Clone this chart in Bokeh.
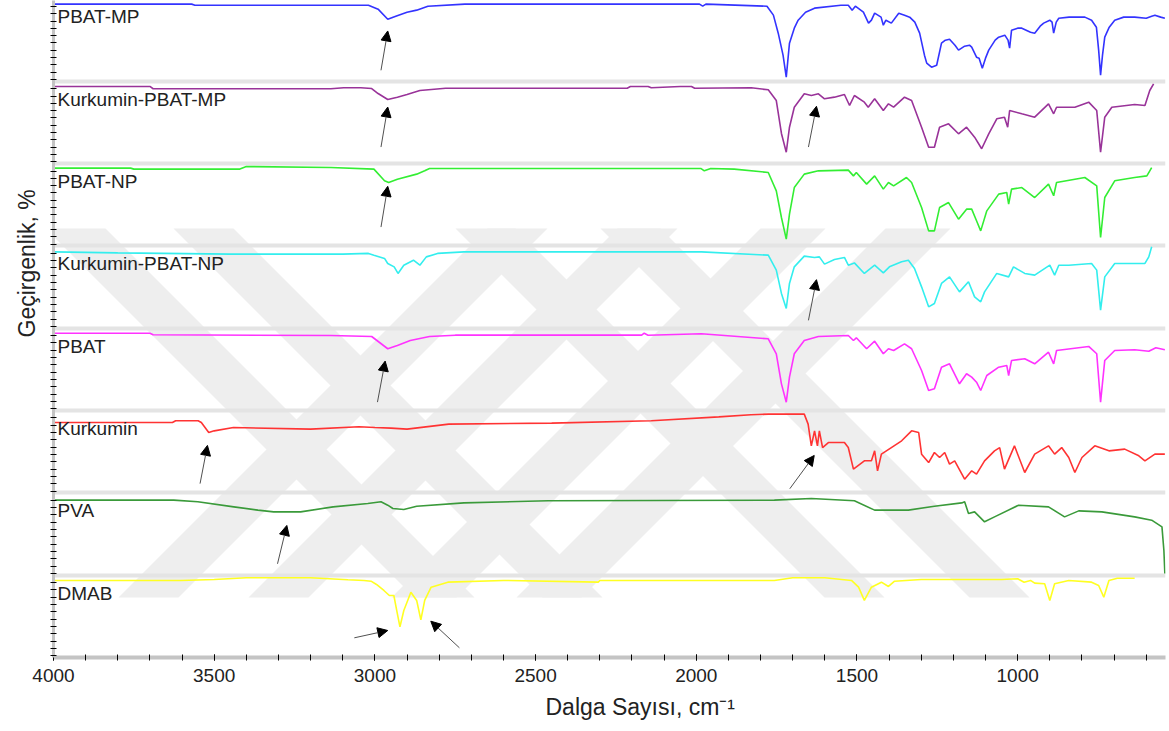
from bokeh.plotting import figure
from bokeh.models import (Range1d, FixedTicker, SingleIntervalTicker, Title,
                          Arrow, NormalHead, ColumnDataSource)
from bokeh.embed import file_html
from bokeh.resources import INLINE
from bokeh.core.properties import value

# ---------------- data: (wavenumber cm-1, transmittance % within its panel) -------------
PBAT_MP = [(4000, 93.6), (3570, 93.6), (3560, 92.3), (3020, 92.3), (2990, 87.5), (2960, 75.3),
           (2935, 79.0), (2900, 83.8), (2870, 86.3), (2835, 91.1), (2720, 93.6), (1990, 93.6),
           (1980, 91.1), (1970, 93.6), (1780, 91.1), (1760, 80.2), (1745, 58.3), (1730, 31.6),
           (1720, 4.9), (1710, 46.2), (1695, 64.4), (1683, 74.1), (1660, 83.8), (1632, 88.7),
           (1550, 92.3), (1527, 92.3), (1515, 86.3), (1505, 91.1), (1480, 83.8), (1464, 70.5),
           (1455, 74.1), (1445, 82.6), (1425, 77.8), (1418, 68.0), (1410, 74.1), (1393, 70.5),
           (1370, 82.6), (1352, 80.2), (1336, 77.8), (1320, 71.7), (1305, 58.3), (1290, 31.6),
           (1283, 21.9), (1268, 17.0), (1252, 19.4), (1237, 46.2), (1225, 49.8), (1212, 51.0),
           (1195, 43.7), (1184, 37.7), (1165, 42.5), (1150, 43.7), (1143, 41.3), (1128, 29.2),
           (1120, 28.0), (1110, 15.8), (1100, 28.0), (1090, 37.7), (1070, 49.8), (1059, 53.5),
           (1040, 55.9), (1030, 49.8), (1025, 40.1), (1019, 62.0), (1000, 64.4), (987, 64.4),
           (960, 59.5), (947, 58.3), (930, 66.8), (919, 70.5), (900, 74.1), (893, 71.7),
           (888, 58.3), (880, 71.7), (872, 76.5), (840, 77.8), (791, 77.8), (770, 74.1),
           (755, 65.6), (748, 37.7), (742, 7.3), (736, 31.6), (729, 53.5), (715, 65.6),
           (698, 74.1), (670, 77.8), (636, 77.8), (600, 76.5), (583, 79.0), (573, 80.2),
           (555, 77.8), (542, 76.5)]

K_PBAT_MP = [(4000, 93.6), (3700, 93.6), (3690, 90.8), (3137, 90.8), (3097, 92.0), (3044, 92.0),
             (3010, 91.1), (2990, 85.0), (2960, 77.8), (2930, 80.6), (2900, 83.8), (2860, 88.7),
             (2780, 91.5), (2215, 91.5), (2205, 93.6), (2150, 93.6), (2140, 92.0), (2050, 93.6),
             (2015, 93.6), (2005, 91.5), (1829, 92.0), (1776, 89.5), (1751, 76.5), (1735, 36.5),
             (1720, 13.7), (1710, 44.1), (1695, 68.4), (1664, 84.7), (1642, 82.6), (1620, 84.7),
             (1601, 78.6), (1570, 80.6), (1539, 83.8), (1523, 70.5), (1508, 82.6), (1477, 74.5),
             (1465, 68.4), (1445, 78.6), (1418, 64.4), (1402, 72.5), (1386, 68.4), (1352, 80.6),
             (1330, 76.5), (1299, 44.1), (1277, 19.8), (1259, 19.8), (1243, 44.1), (1215, 48.2),
             (1184, 36.1), (1159, 44.1), (1134, 32.0), (1112, 17.9), (1090, 36.1), (1065, 54.3),
             (1041, 56.3), (1031, 44.1), (1025, 64.4), (987, 60.4), (947, 56.3), (904, 72.5),
             (888, 60.4), (879, 68.4), (822, 68.4), (779, 74.5), (754, 64.4), (742, 13.7),
             (729, 56.3), (707, 68.4), (636, 71.7), (604, 70.5), (589, 88.7), (577, 96.8)]

PBAT_NP = [(4000, 94.4), (3760, 94.4), (3750, 93.2), (3420, 93.2), (3400, 96.3), (3137, 95.1),
           (3003, 93.2), (2970, 79.0), (2957, 76.9), (2930, 81.0), (2870, 87.1), (2845, 91.1),
           (2830, 93.9), (1985, 93.9), (1975, 91.1), (1955, 93.9), (1882, 93.2), (1776, 89.1),
           (1751, 66.8), (1735, 34.4), (1720, 8.1), (1710, 38.5), (1695, 70.8), (1664, 87.1),
           (1620, 91.1), (1527, 92.0), (1511, 85.0), (1502, 89.1), (1470, 75.0), (1445, 85.0),
           (1418, 68.9), (1402, 76.9), (1386, 72.9), (1346, 83.0), (1330, 76.9), (1299, 46.5),
           (1277, 18.2), (1259, 18.2), (1243, 46.5), (1215, 52.6), (1184, 32.4), (1159, 44.6),
           (1143, 44.6), (1128, 30.4), (1115, 18.2), (1096, 42.5), (1059, 62.8), (1034, 64.8),
           (1028, 50.7), (1019, 68.9), (987, 70.8), (947, 58.7), (904, 75.0), (888, 60.8),
           (879, 76.9), (791, 83.0), (754, 72.9), (742, 10.1), (729, 58.7), (698, 79.0),
           (636, 83.0), (598, 85.0), (583, 95.1)]

K_PBAT_NP = [(4000, 92.7), (3800, 91.5), (3450, 89.9), (3100, 89.9), (3020, 90.8), (3003, 88.7),
             (2970, 84.7), (2960, 78.6), (2940, 74.5), (2928, 66.5), (2910, 76.5), (2880, 82.6),
             (2860, 76.5), (2840, 86.6), (2805, 90.8), (2723, 92.7), (1984, 92.7), (1776, 88.7),
             (1751, 70.5), (1735, 42.2), (1720, 23.9), (1710, 54.3), (1695, 74.5), (1664, 87.5),
             (1632, 85.9), (1617, 86.6), (1601, 77.8), (1570, 83.5), (1539, 85.9), (1527, 76.5),
             (1508, 79.3), (1477, 66.5), (1445, 76.5), (1418, 67.2), (1399, 74.5), (1361, 80.6),
             (1340, 82.6), (1321, 72.5), (1299, 50.2), (1277, 25.9), (1259, 30.0), (1237, 54.3),
             (1212, 62.3), (1181, 44.1), (1153, 56.3), (1134, 38.0), (1115, 32.0), (1103, 44.1),
             (1065, 66.5), (1028, 62.3), (1013, 74.5), (978, 66.5), (947, 64.4), (900, 76.5),
             (885, 64.4), (872, 76.5), (841, 76.5), (770, 78.6), (754, 70.5), (742, 21.9),
             (729, 62.3), (698, 78.6), (604, 78.6), (592, 86.6), (583, 98.8)]

PBAT = [(4000, 93.9), (3700, 93.9), (3690, 92.0), (3137, 91.1), (3010, 89.9), (2960, 75.0),
        (2930, 79.0), (2890, 85.0), (2830, 89.9), (2750, 91.5), (2170, 91.5), (2162, 93.9),
        (2150, 91.5), (1984, 93.2), (1776, 87.1), (1751, 68.9), (1735, 32.4), (1720, 10.1),
        (1710, 40.5), (1695, 68.9), (1664, 85.0), (1620, 89.9), (1527, 91.1), (1511, 85.0),
        (1502, 88.3), (1470, 75.0), (1445, 84.2), (1418, 68.9), (1402, 75.0), (1386, 72.9),
        (1352, 81.0), (1330, 75.0), (1299, 48.6), (1277, 24.3), (1259, 26.4), (1237, 52.6),
        (1212, 56.7), (1181, 32.4), (1159, 44.6), (1143, 40.5), (1128, 34.4), (1115, 24.3),
        (1096, 42.5), (1059, 52.6), (1034, 54.7), (1028, 42.5), (1019, 60.8), (978, 62.8),
        (947, 56.7), (904, 70.8), (888, 56.7), (879, 72.9), (779, 77.8), (754, 68.9),
        (742, 10.1), (729, 60.8), (698, 72.9), (636, 73.8), (592, 72.0), (570, 76.2),
        (542, 73.8)]

KURKUMIN = [(4000, 85.4), (3630, 85.4), (3620, 87.5), (3550, 87.5), (3540, 85.4), (3517, 73.3),
            (3500, 75.3), (3440, 79.3), (3200, 77.4), (3050, 80.2), (3000, 79.3), (2950, 78.6),
            (2900, 77.4), (2770, 83.5), (2450, 84.7), (2140, 87.5), (1930, 92.3), (1830, 94.8),
            (1776, 95.6), (1664, 95.6), (1652, 83.5), (1642, 57.1), (1632, 75.3), (1623, 57.1),
            (1617, 75.3), (1607, 55.0), (1589, 61.1), (1539, 61.1), (1527, 55.0), (1511, 28.8),
            (1477, 38.9), (1455, 38.9), (1445, 51.0), (1436, 26.7), (1424, 47.0), (1393, 55.0),
            (1361, 63.2), (1330, 75.3), (1308, 73.3), (1299, 47.0), (1277, 36.8), (1259, 49.0),
            (1243, 42.9), (1227, 49.0), (1212, 34.9), (1196, 38.9), (1165, 16.6), (1143, 26.7),
            (1128, 22.7), (1103, 38.9), (1072, 51.0), (1056, 55.0), (1041, 28.8), (1010, 57.1),
            (978, 24.7), (947, 47.0), (904, 57.1), (885, 47.0), (863, 55.0), (841, 42.9),
            (822, 24.7), (800, 42.9), (760, 57.1), (716, 51.0), (667, 53.1), (623, 45.0),
            (604, 38.9), (573, 47.0), (542, 47.0)]

PVA = [(4000, 91.1), (3626, 91.1), (3551, 89.1), (3439, 83.0), (3364, 79.0), (3315, 76.9),
       (3231, 76.9), (3130, 83.0), (3022, 87.1), (2981, 89.1), (2960, 85.0), (2944, 81.0),
       (2910, 79.8), (2870, 83.8), (2723, 87.8), (2461, 90.3), (1757, 91.1), (1642, 93.2),
       (1508, 90.3), (1445, 79.0), (1414, 79.0), (1340, 79.0), (1259, 83.8), (1174, 87.8),
       (1165, 89.1), (1153, 75.0), (1134, 76.9), (1103, 64.8), (1072, 70.8), (997, 85.0),
       (904, 83.0), (854, 70.8), (810, 78.1), (738, 76.9), (636, 70.8), (583, 66.8),
       (551, 58.7), (545, 30.0), (542, 2.1)]

DMAB = [(4000, 93.6), (3604, 93.6), (3500, 94.8), (3400, 96.8), (3200, 96.8), (3084, 94.4),
        (3034, 93.6), (3012, 92.7), (2995, 88.7), (2972, 81.4), (2955, 75.3), (2941, 75.3),
        (2930, 53.1), (2922, 37.3), (2910, 57.1), (2888, 79.3), (2870, 69.3), (2857, 45.8),
        (2845, 69.3), (2825, 85.4), (2773, 91.5), (2600, 93.6), (2305, 91.5), (2300, 93.6),
        (1757, 93.6), (1700, 96.8), (1600, 96.8), (1517, 93.6), (1495, 85.4), (1477, 69.3),
        (1455, 85.4), (1424, 91.5), (1402, 86.3), (1383, 92.7), (1300, 94.8), (1050, 94.8),
        (1000, 95.6), (980, 91.5), (960, 93.6), (947, 90.3), (916, 89.5), (900, 69.3),
        (885, 89.5), (841, 93.6), (770, 91.5), (748, 87.5), (732, 73.3), (716, 93.6),
        (690, 96.3), (636, 96.3)]

SAMPLE_NAMES = ["DMAB", "PVA", "Kurkumin", "PBAT", "Kurkumin-PBAT-NP", "PBAT-NP",
                "Kurkumin-PBAT-MP", "PBAT-MP"]
SAMPLE_DATA = [DMAB, PVA, KURKUMIN, PBAT, K_PBAT_NP, PBAT_NP, K_PBAT_MP, PBAT_MP]
SAMPLE_COLORS = ["#ffff22", "#3a9a3a", "#ff3333", "#ff33ff", "#33eeee", "#33ee33",
                 "#993399", "#3333ff"]

# marked bands: (panel index, tail wavenumber, tail %, head wavenumber, head %)
ARROWS = [(7, 2981, 13.2, 2960, 61.0), (6, 2981, 20.0, 2960, 68.6), (6, 1651, 20.0, 1626, 69.5),
          (5, 2981, 22.8, 2960, 72.3), (4, 1651, 9.5, 1626, 58.9), (3, 2992, 10.2, 2968, 60.0),
          (2, 3544, 11.2, 3521, 57.6), (2, 1709, 5.0, 1633, 45.4), (1, 3303, 13.8, 3274, 60.4),
          (0, 3064, 23.9, 2960, 32.8), (0, 2737, 11.8, 2826, 44.1)]

X_MAJOR_STEP = 500
PANEL = 100.0

# ---------------- figure ----------------
W, H = 1169, 731
BL, BR, BT, BB = 53, 4, 0, 74
XR = (4000, 540)
YR = (0, 798)
FW, FH = W - BL - BR, H - BT - BB

def sx(px):
    return XR[0] + (px - BL) * (XR[1] - XR[0]) / FW

def sy(py):
    return YR[0] + (BT + FH - py) * (YR[1] - YR[0]) / FH

p = figure(width=W, height=H, output_backend="svg", toolbar_location=None,
           x_range=Range1d(*XR), y_range=Range1d(*YR),
           min_border_left=BL, min_border_right=BR, min_border_top=BT, min_border_bottom=BB)
p.outline_line_color = None
p.grid.visible = False
p.background_fill_color = "white"
p.border_fill_color = "white"

# watermark-like diagonal bands (pixel-space geometry of the background decoration)
WM_TOP, WM_BOT = 228, 597
bands = [((45, 105), 1), ((173, 233), 1), ((487, 547), -1), ((617, 677), -1),
         ((760, 825), -1), ((885, 950), -1), ((455, 515), 1), ((600, 660), 1)]
wxs, wys = [], []
for (a, b), d in bands:
    shift = d * (WM_BOT - WM_TOP)
    wxs.append([sx(a), sx(b), sx(b + shift), sx(a + shift)])
    wys.append([sy(WM_TOP), sy(WM_TOP), sy(WM_BOT), sy(WM_BOT)])
p.patches(wxs, wys, fill_color="#eeeeee", line_color=None)

# panel separators
p.hspan(y=[PANEL * k for k in range(1, len(SAMPLE_NAMES))], line_color="#e4e4e4", line_width=4)

for k, (name, data, col) in enumerate(zip(SAMPLE_NAMES, SAMPLE_DATA, SAMPLE_COLORS)):
    xs = [d[0] for d in data]
    ys = [PANEL * k + d[1] for d in data]
    p.line(xs, ys, line_color=col, line_width=1.6)

p.text(x=[sx(57)] * len(SAMPLE_NAMES), y=[PANEL * k + 78 for k in range(len(SAMPLE_NAMES))],
       text=SAMPLE_NAMES, text_font=value("Liberation Sans"), text_font_size="19px",
       text_color="#222222", text_baseline="middle", text_align="left")

asrc = ColumnDataSource(dict(
    x0=[a[1] for a in ARROWS], y0=[PANEL * a[0] + a[2] for a in ARROWS],
    x1=[a[3] for a in ARROWS], y1=[PANEL * a[0] + a[4] for a in ARROWS]))
p.add_layout(Arrow(end=NormalHead(size=10, fill_color="black", line_color="black", line_width=1),
                   x_start="x0", y_start="y0", x_end="x1", y_end="y1", source=asrc,
                   line_color="#505050", line_width=1))

# axes
yticks = []
for k in range(len(SAMPLE_NAMES)):
    base = PANEL * k + 37.5
    for j in range(-4, 7):
        yticks.append(base + 8.9 * j)
yax = p.yaxis[0]
yax.ticker = FixedTicker(ticks=[], minor_ticks=yticks)
yax.axis_line_color = "#c4c4c4"
yax.axis_line_width = 3
yax.minor_tick_line_color = "black"
yax.minor_tick_in = 3
yax.minor_tick_out = 3

xax = p.xaxis[0]
xax.ticker = SingleIntervalTicker(interval=X_MAJOR_STEP, num_minor_ticks=5)
xax.axis_line_color = "#c4c4c4"
xax.axis_line_width = 4
xax.major_tick_line_color = "black"
xax.minor_tick_line_color = "black"
xax.major_tick_in = 3
xax.major_tick_out = 3
xax.minor_tick_in = 3
xax.minor_tick_out = 3
xax.major_label_text_font = "Liberation Sans"
xax.major_label_text_font_size = "19px"
xax.major_label_text_color = "#222222"
xax.major_label_standoff = 8

# axis titles
p.add_layout(Title(text="Geçirgenlik, %", align="left", offset=320, standoff=22,
                   text_font="Liberation Sans", text_font_size="23px",
                   text_font_style="normal", text_color="#222222"), "left")
p.add_layout(Title(text="Dalga Sayısı, cm\u207b\u00b9", align="left", offset=492, standoff=15,
                   text_font="Liberation Sans", text_font_size="23px",
                   text_font_style="normal", text_color="#222222"), "below")

open("out.html", "w").write(file_html(p, INLINE))
